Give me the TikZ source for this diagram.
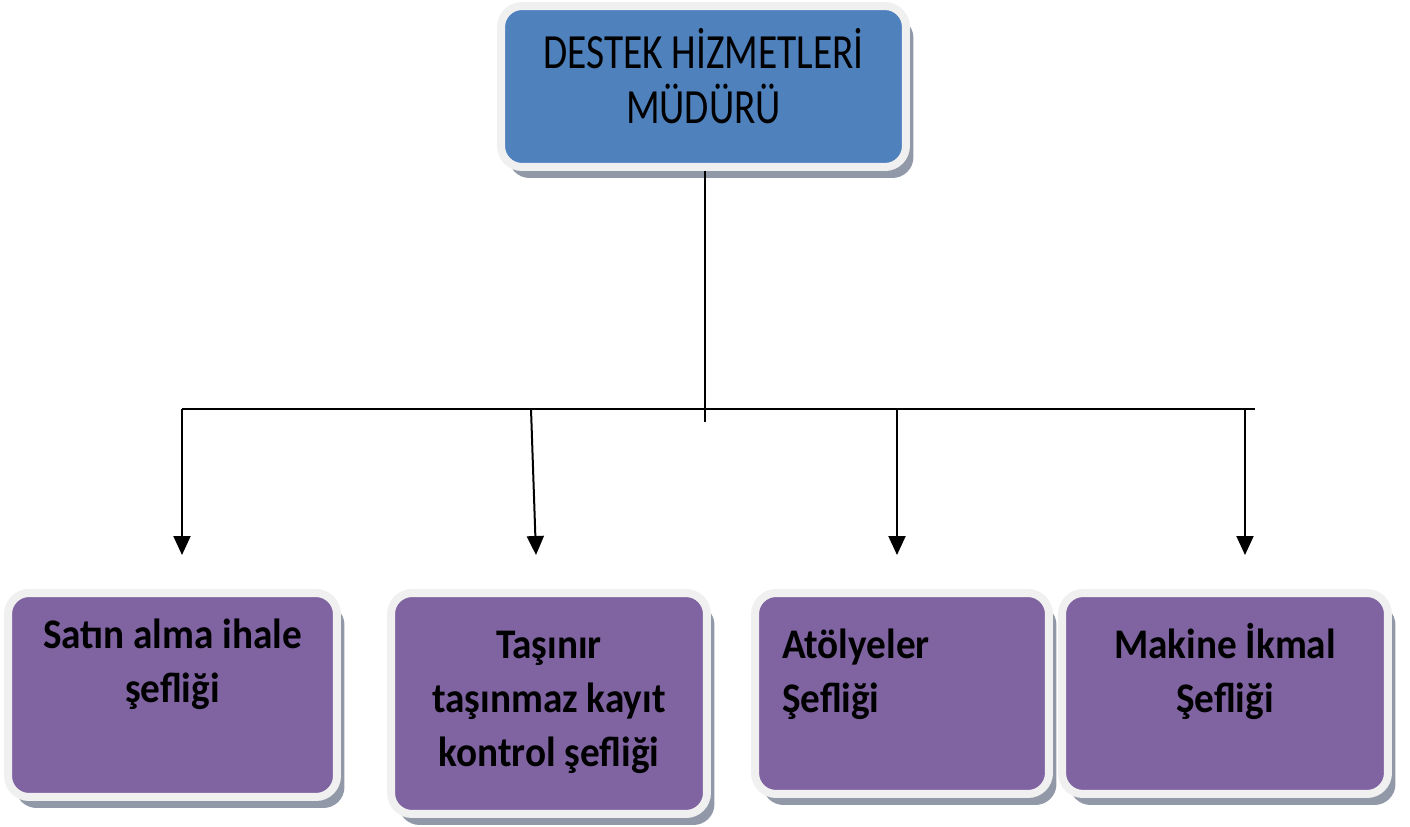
\documentclass[tikz,border=0pt]{standalone}
\usepackage{fontspec}
\setmainfont{Carlito}
\newfontfamily\ustfont{Carlito}[FakeStretch=0.8]
\newfontfamily\altfont{Carlito}[FakeStretch=0.93]
\usetikzlibrary{arrows.meta,shadows}
\definecolor{mavi}{HTML}{4F81BD}
\definecolor{mor}{HTML}{8064A2}
\definecolor{cerceve}{HTML}{F0F0F0}
\definecolor{golge}{HTML}{9199A8}
\tikzset{
  kutu/.style={rectangle, rounded corners=0.42cm, draw=cerceve, line width=0.16cm, inner sep=0pt,
    drop shadow={shadow xshift=0.15cm, shadow yshift=-0.22cm, fill=golge, opacity=1}},
  mudur/.style={kutu, fill=mavi, font=\ustfont\fontsize{28}{31.5}\selectfont},
  sef/.style={kutu, fill=mor, font=\altfont\fontsize{24}{31}\selectfont\bfseries},
  hat/.style={line width=0.04cm},
  ok/.style={hat, -{Triangle[width=0.34cm,length=0.38cm]}}
}
\begin{document}
\begin{tikzpicture}[x=0.02cm,y=-0.02cm]
\useasboundingbox (0,0) rectangle (1410,826);

% Top box
\node[mudur] (mudur) at (703.5,86.5)
  {\parbox[c][3.22cm][t]{8.1cm}{\centering\rule{0pt}{1.24cm}DESTEK HİZMETLERİ\\MÜDÜRÜ}};

% Bottom row left to right
\node[sef] (satin) at (172.5,695)
  {\parbox[c][4.08cm][t]{6.58cm}{\centering\rule{0pt}{1.1cm}Satın alma ihale\\şefliği}};
\node[sef] (tasinir) at (549,703.5)
  {\parbox[c][4.42cm][t]{6.32cm}{\centering\rule{0pt}{1.3cm}Taşınır\\taşınmaz kayıt\\kontrol şefliği}};
\node[sef] (atolye) at (902,693.5)
  {\parbox[c][4.02cm][t]{5.88cm}{\raggedright\leftskip=0.54cm\rule{0pt}{1.3cm}Atölyeler\\Şefliği}};
\node[sef] (makine) at (1225,693.5)
  {\parbox[c][4.02cm][t]{6.52cm}{\centering\rule{0pt}{1.3cm}Makine İkmal\\Şefliği}};

% Bar and arrow points
\coordinate (kol) at (705,422);
\coordinate (barL) at (182,409);
\coordinate (barR) at (1255,409);
\coordinate (b2) at (531,409);
\coordinate (b3) at (897,409);
\coordinate (b4) at (1245,409);
\coordinate (uc1) at (182,555);
\coordinate (uc2) at (536,555);
\coordinate (uc3) at (897,555);
\coordinate (uc4) at (1245,555);

% Lines
\draw[hat] (mudur.south -| kol) -- (kol);
\draw[hat] (barL) -- (barR);
\draw[ok] (barL) -- (uc1);
\draw[ok] (b2) -- (uc2);
\draw[ok] (b3) -- (uc3);
\draw[ok] (b4) -- (uc4);
\end{tikzpicture}
\end{document}
